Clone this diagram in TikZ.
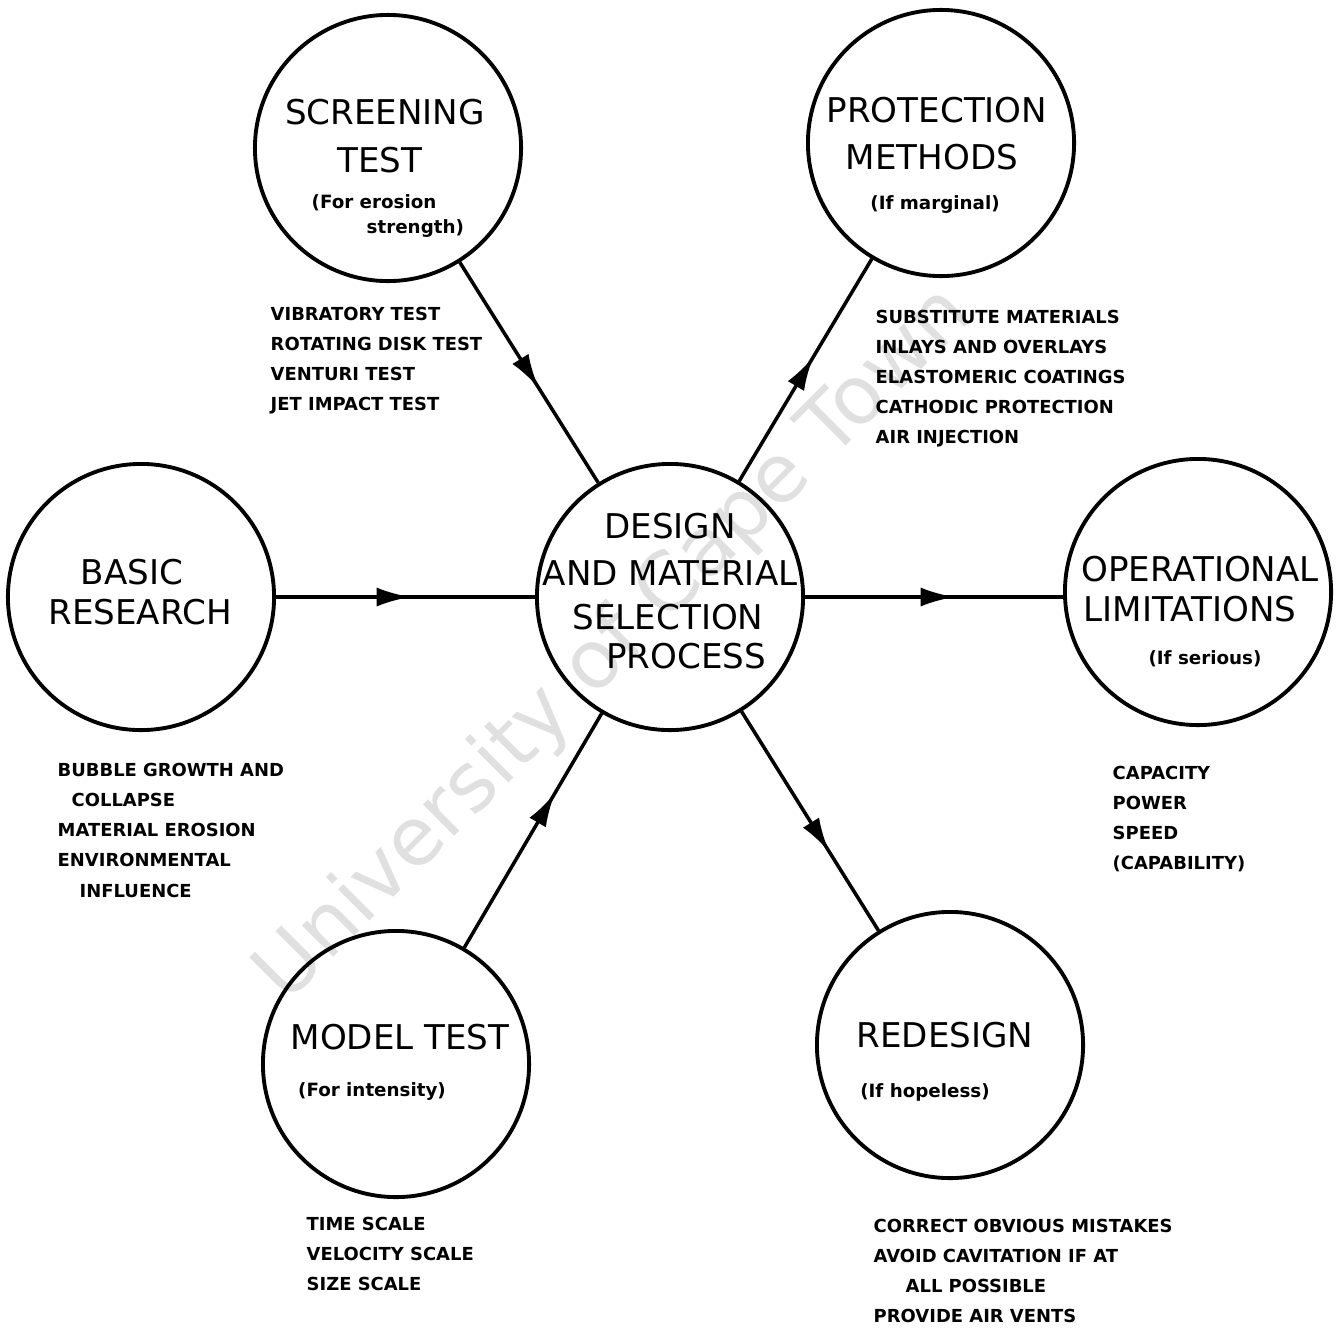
\documentclass[tikz,border=0pt]{standalone}
\usepackage{fontspec}
\setmainfont{DejaVu Sans}
\usetikzlibrary{arrows.meta}
\usetikzlibrary{decorations.markings}
\tikzset{
    topic/.style = {circle, draw=black, line width=1.1pt, minimum size=2.66cm, inner sep=0pt},
    bigtext/.style = {font=\fontsize{9.7}{12}\selectfont, inner sep=0pt},
    subtext/.style = {font=\fontsize{5.2}{7}\selectfont\bfseries, inner sep=0pt},
    listtext/.style = {font=\fontsize{5.1}{8.6}\selectfont\bfseries, align=left, anchor=north west, inner sep=0pt},
    flow/.style = {line width=1pt, postaction={decorate},
        decoration={markings, mark=at position #1 with {\arrow{Latex[length=3.4mm,width=1.9mm]}}}},
    flow/.default = 0.55,
}
\begin{document}
\begin{tikzpicture}[x=0.01cm, y=-0.01cm]
\useasboundingbox (0,0) rectangle (1340,1327);
% watermark
\node[font=\fontsize{23}{23}\selectfont, text=black!12, rotate=45] at (615,645) (wm) {University of Cape Town};
% circles
\node[topic] at (388,148) (scr) {};
\node[topic] at (941,143) (prot) {};
\node[topic] at (141,597) (basic) {};
\node[topic] at (670,597) (dsg) {};
\node[topic] at (1198,592) (oper) {};
\node[topic] at (396,1064) (model) {};
\node[topic] at (950,1045) (redes) {};
% texts in the circles
\node[bigtext] at (385,112) (scr1) {SCREENING};
\node[bigtext] at (380,160) (scr2) {TEST};
\node[subtext, anchor=west] at (311,203) (scr3) {(For erosion};
\node[subtext, anchor=west] at (366,229) (scr4) {strength)};
\node[bigtext] at (937,110) (prot1) {PROTECTION};
\node[bigtext] at (932,157) (prot2) {METHODS};
\node[subtext] at (935,205) (prot3) {(If marginal)};
\node[bigtext] at (132,572) (basic1) {BASIC};
\node[bigtext] at (140,612) (basic2) {RESEARCH};
\node[bigtext] at (670,526) (dsg1) {DESIGN};
\node[bigtext] at (670,573) (dsg2) {AND MATERIAL};
\node[bigtext] at (668,617) (dsg3) {SELECTION};
\node[bigtext] at (686,656) (dsg4) {PROCESS};
\node[bigtext] at (1200,569) (oper1) {OPERATIONAL};
\node[bigtext] at (1190,609) (oper2) {LIMITATIONS};
\node[subtext] at (1205,659) (oper3) {(If serious)};
\node[bigtext] at (400,1037) (model1) {MODEL TEST};
\node[subtext] at (372,1092) (model2) {(For intensity)};
\node[bigtext] at (945,1035) (redes1) {REDESIGN};
\node[subtext] at (925,1092) (redes2) {(If hopeless)};
% lists
\node[listtext] at (270,306) (scrl) {VIBRATORY TEST\\ROTATING DISK TEST\\VENTURI TEST\\JET IMPACT TEST};
\node[listtext] at (875,309) (protl) {SUBSTITUTE MATERIALS\\INLAYS AND OVERLAYS\\ELASTOMERIC COATINGS\\CATHODIC PROTECTION\\AIR INJECTION};
\node[listtext] at (57,762) (basicl) {BUBBLE GROWTH AND\\\hspace{0.14cm}COLLAPSE\\MATERIAL EROSION\\ENVIRONMENTAL\\\hspace{0.22cm}INFLUENCE};
\node[listtext] at (1112,765) (operl) {CAPACITY\\POWER\\SPEED\\(CAPABILITY)};
\node[listtext] at (306,1216) (modell) {TIME SCALE\\VELOCITY SCALE\\SIZE SCALE};
\node[listtext] at (873,1218) (redesl) {CORRECT OBVIOUS MISTAKES\\AVOID CAVITATION IF AT\\\hspace{0.32cm}ALL POSSIBLE\\PROVIDE AIR VENTS};
% arrows
\draw[flow=0.57] (scr) -- (dsg);
\draw[flow=0.56] (dsg) -- (prot);
\draw[flow=0.52] (basic) -- (dsg);
\draw[flow=0.58] (dsg.east) -- (dsg.east -| oper.west);
\draw[flow=0.66] (model) -- (dsg);
\draw[flow=0.64] (dsg) -- (redes);
\end{tikzpicture}
\end{document}
